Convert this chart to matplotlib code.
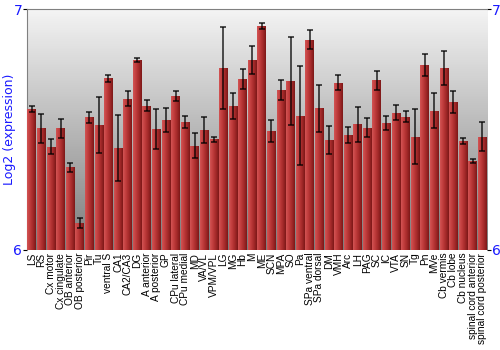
import numpy as np
import matplotlib
matplotlib.use('Agg')
import matplotlib.pyplot as plt
from matplotlib.colors import LinearSegmentedColormap

regions = ['LS', 'RS', 'Cx motor', 'Cx cingulate', 'OB anterior', 'OB posterior',
           'Pir', 'Tu', 'ventral S', 'CA1', 'CA2/CA3', 'DG', 'A anterior',
           'A posterior', 'GP', 'CPu lateral', 'CPu medial', 'MD', 'VA/VL',
           'VPM/VPL', 'LG', 'MG', 'Hb', 'M', 'ME', 'SCN', 'MPA', 'SO', 'Pa',
           'SPa ventral', 'SPa dorsal', 'DM', 'VMH', 'Arc', 'LH', 'PAG', 'SC',
           'IC', 'VTA', 'SN', 'Tg', 'Pn', 'MVe', 'Cb vermis', 'Cb lobe',
           'Cb nucleus', 'spinal cord anterior', 'spinal cord posterior']

expression = [6.584, 6.505, 6.429, 6.505, 6.343, 6.111, 6.551, 6.519, 6.712,
              6.425, 6.628, 6.788, 6.599, 6.503, 6.539, 6.638, 6.530, 6.433,
              6.497, 6.459, 6.755, 6.598, 6.711, 6.790, 6.929, 6.494, 6.664,
              6.701, 6.557, 6.873, 6.588, 6.456, 6.694, 6.476, 6.521, 6.508,
              6.705, 6.528, 6.570, 6.553, 6.470, 6.768, 6.578, 6.755, 6.614,
              6.452, 6.369, 6.470]

error = [0.012, 0.059, 0.032, 0.039, 0.019, 0.021, 0.022, 0.116, 0.016,
         0.137, 0.032, 0.009, 0.024, 0.084, 0.050, 0.021, 0.024, 0.053,
         0.053, 0.010, 0.169, 0.054, 0.041, 0.058, 0.012, 0.047, 0.040,
         0.183, 0.206, 0.039, 0.098, 0.059, 0.031, 0.033, 0.073, 0.041,
         0.039, 0.028, 0.032, 0.022, 0.114, 0.044, 0.073, 0.070, 0.046,
         0.014, 0.007, 0.061]

ymin, ymax = 6, 7
blue = '#1a1aff'

fig = plt.figure(figsize=(5, 3.5), dpi=100)
ax = fig.add_axes([0.054, 0.286, 0.920, 0.688])

# gray background gradient
bg = LinearSegmentedColormap.from_list('bg', ['#7c7c7c', '#f4f4f4'])
ax.imshow(np.linspace(0, 1, 256).reshape(-1, 1), cmap=bg, origin='lower',
          extent=[0, 1, 0, 1], transform=ax.transAxes, aspect='auto', zorder=0)

x = np.arange(len(regions))
bars = ax.bar(x, np.array(expression) - ymin, bottom=ymin, width=0.9,
              color='#b83434', linewidth=0, zorder=2)

# horizontal shading on each bar
barcm = LinearSegmentedColormap.from_list('bar', ['#d25454', '#c03c3c', '#a42a2a', '#7c1818'])
grad = np.linspace(0, 1, 64).reshape(1, -1)
for b in bars:
    im = ax.imshow(grad, cmap=barcm, aspect='auto', zorder=3,
                   extent=[b.get_x(), b.get_x() + b.get_width(), ymin, b.get_y() + b.get_height()])
    im.set_clip_path(b)

ax.errorbar(x, expression, yerr=error, fmt='none', ecolor='black', elinewidth=1.1,
            capsize=2.2, capthick=1.1, alpha=0.85, zorder=4)

ax.set_xlim(-0.5, len(regions) - 0.5)
ax.set_ylim(ymin, ymax)
ax.set_xticks(x)
ax.set_xticklabels(regions, rotation=90, fontsize=7.3, family='Liberation Sans')
ax.tick_params(axis='x', length=0, pad=2)
ax.set_yticks([6, 7])
ax.tick_params(axis='y', labelcolor=blue, labelsize=10, length=3, pad=1,
               right=True, labelright=True)
ax.tick_params(axis='y', which='major', right=True)
for t in ax.yaxis.get_major_ticks():
    t.tick2line.set_markersize(2)
    t.label2.set_x(1.0)
ax.yaxis.set_tick_params(pad=0.5)
ax.set_ylabel('Log2 (expression)', color=blue, fontsize=9, labelpad=-2)

for side in ['left', 'top']:
    ax.spines[side].set_color('#808080')
for side in ['right', 'bottom']:
    ax.spines[side].set_visible(False)

fig.savefig('out.png', dpi=100)
